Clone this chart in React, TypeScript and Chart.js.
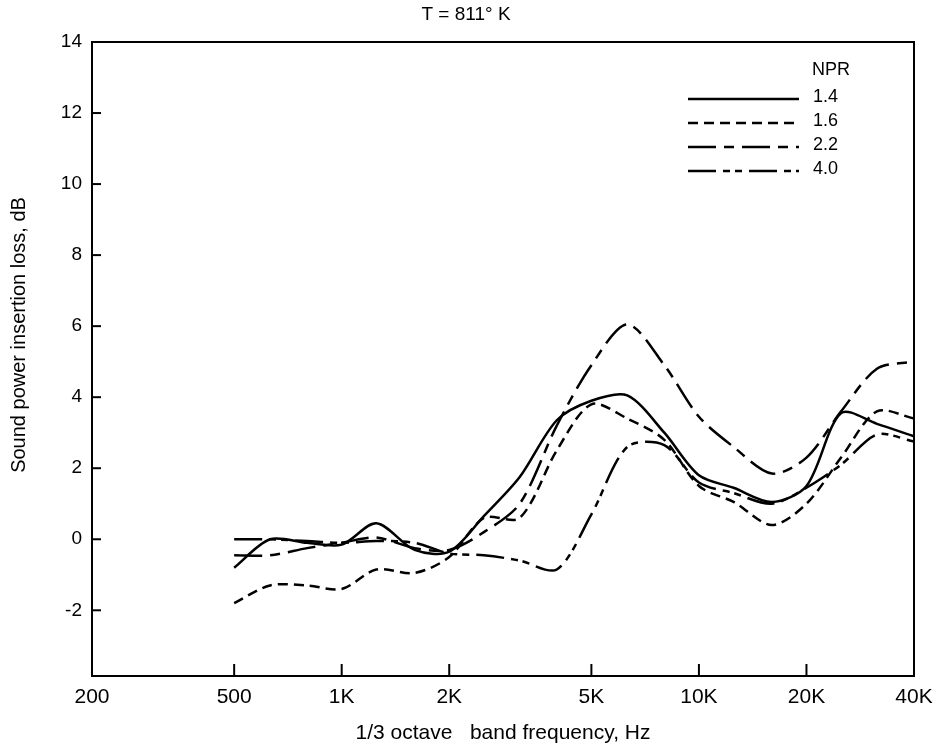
import React, { useEffect, useRef } from "react";
import { Chart, registerables } from "chart.js";

Chart.register(...registerables);

// 1/3 octave band centre frequencies, Hz
const frequencies = [500, 630, 800, 1000, 1250, 1600, 2000, 2500, 3150, 4000, 5000, 6300, 8000, 10000, 12500, 16000, 20000, 25000, 31500, 40000];

// Sound power insertion loss, dB, for each nozzle pressure ratio
const npr14 = [-0.8, 0.0, -0.1, -0.15, 0.45, -0.3, -0.35, 0.65, 1.75, 3.35, 3.9, 4.05, 3.0, 1.8, 1.45, 1.05, 1.5, 3.55, 3.25, 2.9];
const npr16 = [-1.8, -1.3, -1.3, -1.4, -0.85, -0.95, -0.5, 0.6, 0.6, 2.5, 3.8, 3.4, 2.8, 1.5, 1.05, 0.4, 1.0, 2.3, 3.6, 3.4];
const npr22 = [-0.45, -0.45, -0.25, -0.1, 0.05, -0.25, -0.3, 0.2, 1.0, 3.2, 4.9, 6.05, 4.9, 3.45, 2.6, 1.85, 2.3, 3.6, 4.8, 5.0];
const npr40 = [0.0, 0.0, -0.05, -0.1, -0.05, -0.1, -0.4, -0.45, -0.6, -0.85, 0.7, 2.6, 2.65, 1.6, 1.3, 1.0, 1.45, 2.1, 2.95, 2.75];

const seriesLabels = ["1.4", "1.6", "2.2", "4.0"];
const legendTitle = "NPR";
const chartTitle = "T = 811\u00B0 K";
const xTitle = "1/3 octave   band frequency, Hz";
const yTitle = "Sound power insertion loss, dB";

const xTickValues = [200, 500, 1000, 2000, 5000, 10000, 20000, 40000];
const xTickLabels = ["200", "500", "1K", "2K", "5K", "10K", "20K", "40K"];
const yTickValues = [-2, 0, 2, 4, 6, 8, 10, 12, 14];

const FONT = '"Liberation Sans", Arial, Helvetica, sans-serif';

export default function App() {
  const ref = useRef<HTMLCanvasElement | null>(null);

  useEffect(() => {
    document.body.style.margin = "0";
    const canvas = ref.current;
    if (!canvas) return;

    const dashes = [[], [10, 6], [28, 8, 10, 8], [28, 7, 7, 5, 7, 7]];
    const values = [npr14, npr16, npr22, npr40];

    const datasets = values.map((vals, i) => ({
      label: seriesLabels[i],
      data: frequencies.map((f, j) => ({ x: f, y: vals[j] })),
      borderColor: "#000",
      borderWidth: 2.5,
      borderDash: dashes[i],
      pointRadius: 0,
      tension: 0.3,
      fill: false,
    }));

    const decor = {
      id: "decor",
      afterDraw(chart: any) {
        const { ctx, chartArea: a, scales } = chart;
        ctx.save();
        ctx.strokeStyle = "#000";
        ctx.lineWidth = 2;
        ctx.setLineDash([]);
        ctx.strokeRect(a.left, a.top, a.right - a.left, a.bottom - a.top);
        const line = (x1: number, y1: number, x2: number, y2: number) => {
          ctx.beginPath();
          ctx.moveTo(x1, y1);
          ctx.lineTo(x2, y2);
          ctx.stroke();
        };
        yTickValues.forEach((v) => {
          const y = scales.y.getPixelForValue(v);
          line(a.left, y, a.left + 9, y);
        });
        xTickValues.slice(1, -1).forEach((v) => {
          const x = scales.x.getPixelForValue(v);
          line(x, a.bottom, x, a.bottom - 12);
        });

        ctx.fillStyle = "#000";
        ctx.textAlign = "center";
        ctx.textBaseline = "middle";
        ctx.font = `19px ${FONT}`;
        ctx.fillText(chartTitle, 466, 15);

        ctx.save();
        ctx.translate(19, 335);
        ctx.rotate(-Math.PI / 2);
        ctx.font = `20px ${FONT}`;
        ctx.fillText(yTitle, 0, 0);
        ctx.restore();

        // legend
        ctx.textAlign = "left";
        ctx.font = `18px ${FONT}`;
        ctx.fillText(legendTitle, 812, 70);
        chart.data.datasets.forEach((ds: any, i: number) => {
          const y = 97 + i * 24;
          ctx.lineWidth = 2.5;
          ctx.setLineDash(ds.borderDash || []);
          line(688, y + 2, 799, y + 2);
          ctx.setLineDash([]);
          ctx.fillText(ds.label, 813, y);
        });
        ctx.restore();
      },
    };

    const chart = new Chart(canvas, {
      type: "line",
      data: { datasets: datasets as any },
      options: {
        animation: false,
        responsive: false,
        layout: { padding: { top: 42, right: 20, left: 0, bottom: 0 } },
        plugins: {
          legend: { display: false },
          tooltip: { enabled: false },
          title: { display: false },
        },
        scales: {
          x: {
            type: "logarithmic",
            min: 200,
            max: 40000,
            afterBuildTicks: (s: any) => {
              s.ticks = xTickValues.map((v) => ({ value: v }));
            },
            afterFit: (s: any) => {
              s.height = 75;
              s.paddingLeft = 0;
              s.paddingRight = 0;
            },
            ticks: {
              autoSkip: false,
              maxRotation: 0,
              padding: 9,
              color: "#000",
              font: { family: FONT, size: 21 },
              callback: (v: any) => {
                const i = xTickValues.indexOf(Number(v));
                return i >= 0 ? xTickLabels[i] : "";
              },
            },
            grid: { display: false, drawTicks: false },
            border: { display: false },
            title: {
              display: true,
              text: xTitle,
              color: "#000",
              font: { family: FONT, size: 21 },
              padding: { top: 0, bottom: 5 },
            },
          },
          y: {
            type: "linear",
            min: -3.85,
            max: 14,
            afterBuildTicks: (s: any) => {
              s.ticks = yTickValues.map((v) => ({ value: v }));
            },
            afterFit: (s: any) => {
              s.width = 92;
              s.paddingTop = 0;
              s.paddingBottom = 0;
            },
            ticks: {
              padding: 10,
              color: "#000",
              font: { family: FONT, size: 19 },
              callback: (v: any) => String(v),
            },
            grid: { display: false, drawTicks: false },
            border: { display: false },
          },
        },
      },
      plugins: [decor],
    });

    return () => chart.destroy();
  }, []);

  return <canvas ref={ref} width={934} height={751} style={{ display: "block" }} />;
}
